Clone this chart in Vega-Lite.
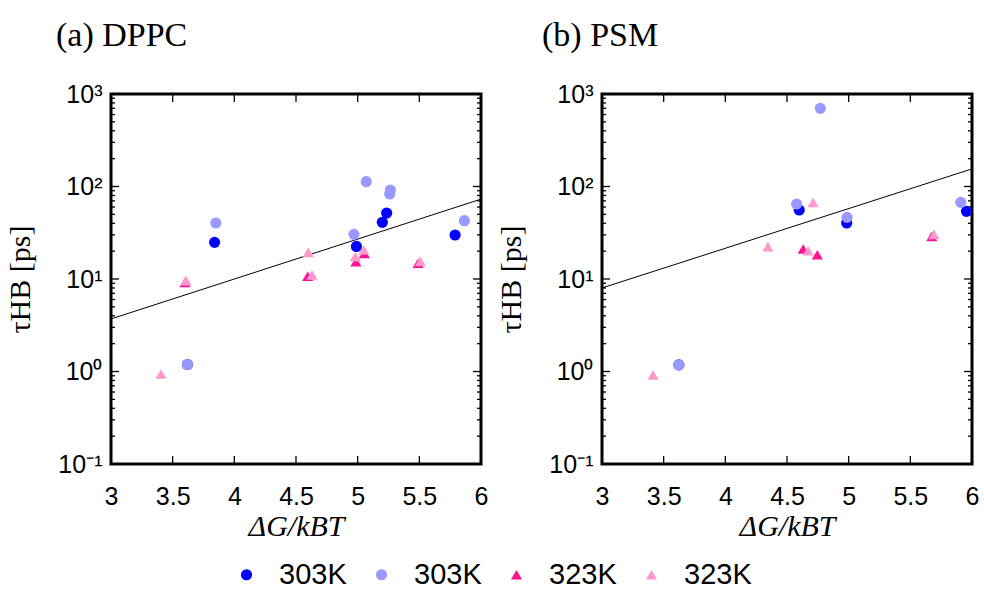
{
  "$schema": "https://vega.github.io/schema/vega-lite/v6.json",
  "padding": {"left": 4, "top": 17, "right": 4, "bottom": 0},
  "background": "white",
  "datasets": {
    "dppc": [
      {"dG": 3.62, "tau": 1.19, "series": "303K a"},
      {"dG": 3.84, "tau": 24.9, "series": "303K a"},
      {"dG": 4.99, "tau": 22.5, "series": "303K a"},
      {"dG": 5.2, "tau": 41, "series": "303K a"},
      {"dG": 5.235, "tau": 51.7, "series": "303K a"},
      {"dG": 5.79, "tau": 29.9, "series": "303K a"},
      {"dG": 3.62, "tau": 1.19, "series": "303K b"},
      {"dG": 3.85, "tau": 40.3, "series": "303K b"},
      {"dG": 4.97, "tau": 30.4, "series": "303K b"},
      {"dG": 5.07, "tau": 112.7, "series": "303K b"},
      {"dG": 5.265, "tau": 91.7, "series": "303K b"},
      {"dG": 5.26, "tau": 83, "series": "303K b"},
      {"dG": 5.865, "tau": 42.7, "series": "303K b"},
      {"dG": 3.6, "tau": 9.2, "series": "323K a"},
      {"dG": 4.595, "tau": 10.7, "series": "323K a"},
      {"dG": 4.986, "tau": 15.4, "series": "323K a"},
      {"dG": 5.054, "tau": 18.9, "series": "323K a"},
      {"dG": 5.49, "tau": 14.8, "series": "323K a"},
      {"dG": 3.405, "tau": 0.94, "series": "323K b"},
      {"dG": 3.608, "tau": 9.6, "series": "323K b"},
      {"dG": 4.6, "tau": 19.4, "series": "323K b"},
      {"dG": 4.63, "tau": 11.1, "series": "323K b"},
      {"dG": 4.981, "tau": 17.4, "series": "323K b"},
      {"dG": 5.049, "tau": 20.6, "series": "323K b"},
      {"dG": 5.508, "tau": 15.5, "series": "323K b"}
    ],
    "psm": [
      {"dG": 3.623, "tau": 1.18, "series": "303K a"},
      {"dG": 4.599, "tau": 55.7, "series": "303K a"},
      {"dG": 4.984, "tau": 40.3, "series": "303K a"},
      {"dG": 5.955, "tau": 53.9, "series": "303K a"},
      {"dG": 3.623, "tau": 1.18, "series": "303K b"},
      {"dG": 4.578, "tau": 64.7, "series": "303K b"},
      {"dG": 4.77, "tau": 700, "series": "303K b"},
      {"dG": 4.987, "tau": 46.4, "series": "303K b"},
      {"dG": 5.909, "tau": 67.4, "series": "303K b"},
      {"dG": 4.631, "tau": 21.1, "series": "323K a"},
      {"dG": 4.746, "tau": 18.3, "series": "323K a"},
      {"dG": 5.674, "tau": 28.9, "series": "323K a"},
      {"dG": 3.414, "tau": 0.92, "series": "323K b"},
      {"dG": 4.345, "tau": 22.4, "series": "323K b"},
      {"dG": 4.711, "tau": 67.5, "series": "323K b"},
      {"dG": 4.671, "tau": 20.2, "series": "323K b"},
      {"dG": 5.692, "tau": 30.4, "series": "323K b"}
    ],
    "fit_dppc": [{"dG": 3, "tau": 3.7}, {"dG": 6, "tau": 73}],
    "fit_psm": [{"dG": 3, "tau": 8.0}, {"dG": 6, "tau": 155}],
    "yticks": [
      {"v": 0.1, "kind": "major"}, {"v": 1, "kind": "major"}, {"v": 10, "kind": "major"}, {"v": 100, "kind": "major"}, {"v": 1000, "kind": "major"},
      {"v": 0.2, "kind": "minor"}, {"v": 0.3, "kind": "minor"}, {"v": 0.4, "kind": "minor"}, {"v": 0.5, "kind": "minor"}, {"v": 0.6, "kind": "minor"}, {"v": 0.7, "kind": "minor"}, {"v": 0.8, "kind": "minor"}, {"v": 0.9, "kind": "minor"},
      {"v": 2, "kind": "minor"}, {"v": 3, "kind": "minor"}, {"v": 4, "kind": "minor"}, {"v": 5, "kind": "minor"}, {"v": 6, "kind": "minor"}, {"v": 7, "kind": "minor"}, {"v": 8, "kind": "minor"}, {"v": 9, "kind": "minor"},
      {"v": 20, "kind": "minor"}, {"v": 30, "kind": "minor"}, {"v": 40, "kind": "minor"}, {"v": 50, "kind": "minor"}, {"v": 60, "kind": "minor"}, {"v": 70, "kind": "minor"}, {"v": 80, "kind": "minor"}, {"v": 90, "kind": "minor"},
      {"v": 200, "kind": "minor"}, {"v": 300, "kind": "minor"}, {"v": 400, "kind": "minor"}, {"v": 500, "kind": "minor"}, {"v": 600, "kind": "minor"}, {"v": 700, "kind": "minor"}, {"v": 800, "kind": "minor"}, {"v": 900, "kind": "minor"}
    ],
    "xticks": [{"v": 3.5}, {"v": 4}, {"v": 4.5}, {"v": 5}, {"v": 5.5}]
  },
  "hconcat": [
    {
      "width": 370,
      "height": 370,
      "title": {"text": "(a) DPPC", "anchor": "start", "frame": "group", "dx": -55, "offset": 2, "baseline": "alphabetic", "font": "Liberation Serif", "fontSize": 34, "fontWeight": "normal", "color": "black"},
      "layer": [
        {
          "data": {"name": "yticks"},
          "transform": [{"filter": "datum.kind == 'major'"}],
          "mark": {"type": "rule", "color": "black", "strokeWidth": 1.3, "x2Offset": 8},
          "encoding": {
            "y": {"field": "v", "type": "quantitative", "scale": {"type": "log", "domain": [0.1, 1000], "nice": false},
              "axis": {"orient": "left", "title": "τHB [ps]", "values": [0.1, 1, 10, 100, 1000], "ticks": false, "labelPadding": 9, "titlePadding": 22, "labelExpr": "datum.value >= 999 ? '10³' : datum.value >= 99 ? '10²' : datum.value >= 9 ? '10¹' : datum.value >= 0.9 ? '10⁰' : '10⁻¹'"}},
            "x": {"datum": 3, "type": "quantitative", "scale": {"domain": [3, 6], "nice": false, "zero": false},
              "axis": {"orient": "bottom", "title": "ΔG/kBT", "values": [3, 3.5, 4, 4.5, 5, 5.5, 6], "format": "~g", "ticks": false, "labelPadding": 20, "titlePadding": 2, "titleFontStyle": "italic", "labelFlush": false}},
            "x2": {"datum": 3}
          }
        },
        {
          "data": {"name": "yticks"},
          "transform": [{"filter": "datum.kind == 'minor'"}],
          "mark": {"type": "rule", "color": "black", "strokeWidth": 1.3, "x2Offset": 4},
          "encoding": {
            "y": {"field": "v", "type": "quantitative", "scale": {"type": "log", "domain": [0.1, 1000], "nice": false},
              "axis": {"orient": "left", "title": "τHB [ps]", "values": [0.1, 1, 10, 100, 1000], "ticks": false, "labelPadding": 9, "titlePadding": 22, "labelExpr": "datum.value >= 999 ? '10³' : datum.value >= 99 ? '10²' : datum.value >= 9 ? '10¹' : datum.value >= 0.9 ? '10⁰' : '10⁻¹'"}},
            "x": {"datum": 3, "type": "quantitative", "scale": {"domain": [3, 6], "nice": false, "zero": false},
              "axis": {"orient": "bottom", "title": "ΔG/kBT", "values": [3, 3.5, 4, 4.5, 5, 5.5, 6], "format": "~g", "ticks": false, "labelPadding": 20, "titlePadding": 2, "titleFontStyle": "italic", "labelFlush": false}},
            "x2": {"datum": 3}
          }
        },
        {
          "data": {"name": "yticks"},
          "transform": [{"filter": "datum.kind == 'major'"}],
          "mark": {"type": "rule", "color": "black", "strokeWidth": 1.3, "x2Offset": -8},
          "encoding": {
            "y": {"field": "v", "type": "quantitative", "scale": {"type": "log", "domain": [0.1, 1000], "nice": false},
              "axis": {"orient": "left", "title": "τHB [ps]", "values": [0.1, 1, 10, 100, 1000], "ticks": false, "labelPadding": 9, "titlePadding": 22, "labelExpr": "datum.value >= 999 ? '10³' : datum.value >= 99 ? '10²' : datum.value >= 9 ? '10¹' : datum.value >= 0.9 ? '10⁰' : '10⁻¹'"}},
            "x": {"datum": 6, "type": "quantitative", "scale": {"domain": [3, 6], "nice": false, "zero": false},
              "axis": {"orient": "bottom", "title": "ΔG/kBT", "values": [3, 3.5, 4, 4.5, 5, 5.5, 6], "format": "~g", "ticks": false, "labelPadding": 20, "titlePadding": 2, "titleFontStyle": "italic", "labelFlush": false}},
            "x2": {"datum": 6}
          }
        },
        {
          "data": {"name": "yticks"},
          "transform": [{"filter": "datum.kind == 'minor'"}],
          "mark": {"type": "rule", "color": "black", "strokeWidth": 1.3, "x2Offset": -4},
          "encoding": {
            "y": {"field": "v", "type": "quantitative", "scale": {"type": "log", "domain": [0.1, 1000], "nice": false},
              "axis": {"orient": "left", "title": "τHB [ps]", "values": [0.1, 1, 10, 100, 1000], "ticks": false, "labelPadding": 9, "titlePadding": 22, "labelExpr": "datum.value >= 999 ? '10³' : datum.value >= 99 ? '10²' : datum.value >= 9 ? '10¹' : datum.value >= 0.9 ? '10⁰' : '10⁻¹'"}},
            "x": {"datum": 6, "type": "quantitative", "scale": {"domain": [3, 6], "nice": false, "zero": false},
              "axis": {"orient": "bottom", "title": "ΔG/kBT", "values": [3, 3.5, 4, 4.5, 5, 5.5, 6], "format": "~g", "ticks": false, "labelPadding": 20, "titlePadding": 2, "titleFontStyle": "italic", "labelFlush": false}},
            "x2": {"datum": 6}
          }
        },
        {
          "data": {"name": "xticks"},
          "mark": {"type": "rule", "color": "black", "strokeWidth": 1.3, "y2Offset": -8},
          "encoding": {
            "x": {"field": "v", "type": "quantitative", "scale": {"domain": [3, 6], "nice": false, "zero": false},
              "axis": {"orient": "bottom", "title": "ΔG/kBT", "values": [3, 3.5, 4, 4.5, 5, 5.5, 6], "format": "~g", "ticks": false, "labelPadding": 20, "titlePadding": 2, "titleFontStyle": "italic", "labelFlush": false}},
            "y": {"datum": 0.1, "type": "quantitative", "scale": {"type": "log", "domain": [0.1, 1000], "nice": false},
              "axis": {"orient": "left", "title": "τHB [ps]", "values": [0.1, 1, 10, 100, 1000], "ticks": false, "labelPadding": 9, "titlePadding": 22, "labelExpr": "datum.value >= 999 ? '10³' : datum.value >= 99 ? '10²' : datum.value >= 9 ? '10¹' : datum.value >= 0.9 ? '10⁰' : '10⁻¹'"}},
            "y2": {"datum": 0.1}
          }
        },
        {
          "data": {"name": "xticks"},
          "mark": {"type": "rule", "color": "black", "strokeWidth": 1.3, "y2Offset": 8},
          "encoding": {
            "x": {"field": "v", "type": "quantitative", "scale": {"domain": [3, 6], "nice": false, "zero": false},
              "axis": {"orient": "bottom", "title": "ΔG/kBT", "values": [3, 3.5, 4, 4.5, 5, 5.5, 6], "format": "~g", "ticks": false, "labelPadding": 20, "titlePadding": 2, "titleFontStyle": "italic", "labelFlush": false}},
            "y": {"datum": 1000, "type": "quantitative", "scale": {"type": "log", "domain": [0.1, 1000], "nice": false},
              "axis": {"orient": "left", "title": "τHB [ps]", "values": [0.1, 1, 10, 100, 1000], "ticks": false, "labelPadding": 9, "titlePadding": 22, "labelExpr": "datum.value >= 999 ? '10³' : datum.value >= 99 ? '10²' : datum.value >= 9 ? '10¹' : datum.value >= 0.9 ? '10⁰' : '10⁻¹'"}},
            "y2": {"datum": 1000}
          }
        },
        {
          "data": {"name": "fit_dppc"},
          "mark": {"type": "line", "color": "black", "strokeWidth": 1},
          "encoding": {
            "x": {"field": "dG", "type": "quantitative", "scale": {"domain": [3, 6], "nice": false, "zero": false},
              "axis": {"orient": "bottom", "title": "ΔG/kBT", "values": [3, 3.5, 4, 4.5, 5, 5.5, 6], "format": "~g", "ticks": false, "labelPadding": 20, "titlePadding": 2, "titleFontStyle": "italic", "labelFlush": false}},
            "y": {"field": "tau", "type": "quantitative", "scale": {"type": "log", "domain": [0.1, 1000], "nice": false},
              "axis": {"orient": "left", "title": "τHB [ps]", "values": [0.1, 1, 10, 100, 1000], "ticks": false, "labelPadding": 9, "titlePadding": 22, "labelExpr": "datum.value >= 999 ? '10³' : datum.value >= 99 ? '10²' : datum.value >= 9 ? '10¹' : datum.value >= 0.9 ? '10⁰' : '10⁻¹'"}}
          }
        },
        {
          "data": {"name": "dppc"},
          "mark": {"type": "point", "filled": true, "opacity": 1, "clip": true},
          "encoding": {
            "x": {"field": "dG", "type": "quantitative", "scale": {"domain": [3, 6], "nice": false, "zero": false},
              "axis": {"orient": "bottom", "title": "ΔG/kBT", "values": [3, 3.5, 4, 4.5, 5, 5.5, 6], "format": "~g", "ticks": false, "labelPadding": 20, "titlePadding": 2, "titleFontStyle": "italic", "labelFlush": false}},
            "y": {"field": "tau", "type": "quantitative", "scale": {"type": "log", "domain": [0.1, 1000], "nice": false},
              "axis": {"orient": "left", "title": "τHB [ps]", "values": [0.1, 1, 10, 100, 1000], "ticks": false, "labelPadding": 9, "titlePadding": 22, "labelExpr": "datum.value >= 999 ? '10³' : datum.value >= 99 ? '10²' : datum.value >= 9 ? '10¹' : datum.value >= 0.9 ? '10⁰' : '10⁻¹'"}},
            "color": {"field": "series", "type": "nominal",
              "scale": {"domain": ["303K a", "303K b", "323K a", "323K b"], "range": ["#0000ff", "#9999ff", "#ff1493", "#ff99cc"]},
              "legend": {"title": null, "orient": "bottom", "direction": "horizontal", "offset": 17, "labelExpr": "slice(datum.label, 0, 4)"}},
            "shape": {"field": "series", "type": "nominal",
              "scale": {"domain": ["303K a", "303K b", "323K a", "323K b"], "range": ["circle", "circle", "triangle-up", "triangle-up"]},
              "legend": {"title": null, "orient": "bottom", "direction": "horizontal", "offset": 17, "labelExpr": "slice(datum.label, 0, 4)"}},
            "size": {"field": "series", "type": "nominal",
              "scale": {"domain": ["303K a", "303K b", "323K a", "323K b"], "range": [125, 125, 175, 175]}, "legend": null}
          }
        }
      ]
    },
    {
      "width": 370,
      "height": 370,
      "title": {"text": "(b) PSM", "anchor": "start", "frame": "group", "dx": -60, "offset": 2, "baseline": "alphabetic", "font": "Liberation Serif", "fontSize": 34, "fontWeight": "normal", "color": "black"},
      "layer": [
        {
          "data": {"name": "yticks"},
          "transform": [{"filter": "datum.kind == 'major'"}],
          "mark": {"type": "rule", "color": "black", "strokeWidth": 1.3, "x2Offset": 8},
          "encoding": {
            "y": {"field": "v", "type": "quantitative", "scale": {"type": "log", "domain": [0.1, 1000], "nice": false},
              "axis": {"orient": "left", "title": "τHB [ps]", "values": [0.1, 1, 10, 100, 1000], "ticks": false, "labelPadding": 9, "titlePadding": 22, "labelExpr": "datum.value >= 999 ? '10³' : datum.value >= 99 ? '10²' : datum.value >= 9 ? '10¹' : datum.value >= 0.9 ? '10⁰' : '10⁻¹'"}},
            "x": {"datum": 3, "type": "quantitative", "scale": {"domain": [3, 6], "nice": false, "zero": false},
              "axis": {"orient": "bottom", "title": "ΔG/kBT", "values": [3, 3.5, 4, 4.5, 5, 5.5, 6], "format": "~g", "ticks": false, "labelPadding": 20, "titlePadding": 2, "titleFontStyle": "italic", "labelFlush": false}},
            "x2": {"datum": 3}
          }
        },
        {
          "data": {"name": "yticks"},
          "transform": [{"filter": "datum.kind == 'minor'"}],
          "mark": {"type": "rule", "color": "black", "strokeWidth": 1.3, "x2Offset": 4},
          "encoding": {
            "y": {"field": "v", "type": "quantitative", "scale": {"type": "log", "domain": [0.1, 1000], "nice": false},
              "axis": {"orient": "left", "title": "τHB [ps]", "values": [0.1, 1, 10, 100, 1000], "ticks": false, "labelPadding": 9, "titlePadding": 22, "labelExpr": "datum.value >= 999 ? '10³' : datum.value >= 99 ? '10²' : datum.value >= 9 ? '10¹' : datum.value >= 0.9 ? '10⁰' : '10⁻¹'"}},
            "x": {"datum": 3, "type": "quantitative", "scale": {"domain": [3, 6], "nice": false, "zero": false},
              "axis": {"orient": "bottom", "title": "ΔG/kBT", "values": [3, 3.5, 4, 4.5, 5, 5.5, 6], "format": "~g", "ticks": false, "labelPadding": 20, "titlePadding": 2, "titleFontStyle": "italic", "labelFlush": false}},
            "x2": {"datum": 3}
          }
        },
        {
          "data": {"name": "yticks"},
          "transform": [{"filter": "datum.kind == 'major'"}],
          "mark": {"type": "rule", "color": "black", "strokeWidth": 1.3, "x2Offset": -8},
          "encoding": {
            "y": {"field": "v", "type": "quantitative", "scale": {"type": "log", "domain": [0.1, 1000], "nice": false},
              "axis": {"orient": "left", "title": "τHB [ps]", "values": [0.1, 1, 10, 100, 1000], "ticks": false, "labelPadding": 9, "titlePadding": 22, "labelExpr": "datum.value >= 999 ? '10³' : datum.value >= 99 ? '10²' : datum.value >= 9 ? '10¹' : datum.value >= 0.9 ? '10⁰' : '10⁻¹'"}},
            "x": {"datum": 6, "type": "quantitative", "scale": {"domain": [3, 6], "nice": false, "zero": false},
              "axis": {"orient": "bottom", "title": "ΔG/kBT", "values": [3, 3.5, 4, 4.5, 5, 5.5, 6], "format": "~g", "ticks": false, "labelPadding": 20, "titlePadding": 2, "titleFontStyle": "italic", "labelFlush": false}},
            "x2": {"datum": 6}
          }
        },
        {
          "data": {"name": "yticks"},
          "transform": [{"filter": "datum.kind == 'minor'"}],
          "mark": {"type": "rule", "color": "black", "strokeWidth": 1.3, "x2Offset": -4},
          "encoding": {
            "y": {"field": "v", "type": "quantitative", "scale": {"type": "log", "domain": [0.1, 1000], "nice": false},
              "axis": {"orient": "left", "title": "τHB [ps]", "values": [0.1, 1, 10, 100, 1000], "ticks": false, "labelPadding": 9, "titlePadding": 22, "labelExpr": "datum.value >= 999 ? '10³' : datum.value >= 99 ? '10²' : datum.value >= 9 ? '10¹' : datum.value >= 0.9 ? '10⁰' : '10⁻¹'"}},
            "x": {"datum": 6, "type": "quantitative", "scale": {"domain": [3, 6], "nice": false, "zero": false},
              "axis": {"orient": "bottom", "title": "ΔG/kBT", "values": [3, 3.5, 4, 4.5, 5, 5.5, 6], "format": "~g", "ticks": false, "labelPadding": 20, "titlePadding": 2, "titleFontStyle": "italic", "labelFlush": false}},
            "x2": {"datum": 6}
          }
        },
        {
          "data": {"name": "xticks"},
          "mark": {"type": "rule", "color": "black", "strokeWidth": 1.3, "y2Offset": -8},
          "encoding": {
            "x": {"field": "v", "type": "quantitative", "scale": {"domain": [3, 6], "nice": false, "zero": false},
              "axis": {"orient": "bottom", "title": "ΔG/kBT", "values": [3, 3.5, 4, 4.5, 5, 5.5, 6], "format": "~g", "ticks": false, "labelPadding": 20, "titlePadding": 2, "titleFontStyle": "italic", "labelFlush": false}},
            "y": {"datum": 0.1, "type": "quantitative", "scale": {"type": "log", "domain": [0.1, 1000], "nice": false},
              "axis": {"orient": "left", "title": "τHB [ps]", "values": [0.1, 1, 10, 100, 1000], "ticks": false, "labelPadding": 9, "titlePadding": 22, "labelExpr": "datum.value >= 999 ? '10³' : datum.value >= 99 ? '10²' : datum.value >= 9 ? '10¹' : datum.value >= 0.9 ? '10⁰' : '10⁻¹'"}},
            "y2": {"datum": 0.1}
          }
        },
        {
          "data": {"name": "xticks"},
          "mark": {"type": "rule", "color": "black", "strokeWidth": 1.3, "y2Offset": 8},
          "encoding": {
            "x": {"field": "v", "type": "quantitative", "scale": {"domain": [3, 6], "nice": false, "zero": false},
              "axis": {"orient": "bottom", "title": "ΔG/kBT", "values": [3, 3.5, 4, 4.5, 5, 5.5, 6], "format": "~g", "ticks": false, "labelPadding": 20, "titlePadding": 2, "titleFontStyle": "italic", "labelFlush": false}},
            "y": {"datum": 1000, "type": "quantitative", "scale": {"type": "log", "domain": [0.1, 1000], "nice": false},
              "axis": {"orient": "left", "title": "τHB [ps]", "values": [0.1, 1, 10, 100, 1000], "ticks": false, "labelPadding": 9, "titlePadding": 22, "labelExpr": "datum.value >= 999 ? '10³' : datum.value >= 99 ? '10²' : datum.value >= 9 ? '10¹' : datum.value >= 0.9 ? '10⁰' : '10⁻¹'"}},
            "y2": {"datum": 1000}
          }
        },
        {
          "data": {"name": "fit_psm"},
          "mark": {"type": "line", "color": "black", "strokeWidth": 1},
          "encoding": {
            "x": {"field": "dG", "type": "quantitative", "scale": {"domain": [3, 6], "nice": false, "zero": false},
              "axis": {"orient": "bottom", "title": "ΔG/kBT", "values": [3, 3.5, 4, 4.5, 5, 5.5, 6], "format": "~g", "ticks": false, "labelPadding": 20, "titlePadding": 2, "titleFontStyle": "italic", "labelFlush": false}},
            "y": {"field": "tau", "type": "quantitative", "scale": {"type": "log", "domain": [0.1, 1000], "nice": false},
              "axis": {"orient": "left", "title": "τHB [ps]", "values": [0.1, 1, 10, 100, 1000], "ticks": false, "labelPadding": 9, "titlePadding": 22, "labelExpr": "datum.value >= 999 ? '10³' : datum.value >= 99 ? '10²' : datum.value >= 9 ? '10¹' : datum.value >= 0.9 ? '10⁰' : '10⁻¹'"}}
          }
        },
        {
          "data": {"name": "psm"},
          "mark": {"type": "point", "filled": true, "opacity": 1, "clip": true},
          "encoding": {
            "x": {"field": "dG", "type": "quantitative", "scale": {"domain": [3, 6], "nice": false, "zero": false},
              "axis": {"orient": "bottom", "title": "ΔG/kBT", "values": [3, 3.5, 4, 4.5, 5, 5.5, 6], "format": "~g", "ticks": false, "labelPadding": 20, "titlePadding": 2, "titleFontStyle": "italic", "labelFlush": false}},
            "y": {"field": "tau", "type": "quantitative", "scale": {"type": "log", "domain": [0.1, 1000], "nice": false},
              "axis": {"orient": "left", "title": "τHB [ps]", "values": [0.1, 1, 10, 100, 1000], "ticks": false, "labelPadding": 9, "titlePadding": 22, "labelExpr": "datum.value >= 999 ? '10³' : datum.value >= 99 ? '10²' : datum.value >= 9 ? '10¹' : datum.value >= 0.9 ? '10⁰' : '10⁻¹'"}},
            "color": {"field": "series", "type": "nominal",
              "scale": {"domain": ["303K a", "303K b", "323K a", "323K b"], "range": ["#0000ff", "#9999ff", "#ff1493", "#ff99cc"]},
              "legend": {"title": null, "orient": "bottom", "direction": "horizontal", "offset": 17, "labelExpr": "slice(datum.label, 0, 4)"}},
            "shape": {"field": "series", "type": "nominal",
              "scale": {"domain": ["303K a", "303K b", "323K a", "323K b"], "range": ["circle", "circle", "triangle-up", "triangle-up"]},
              "legend": {"title": null, "orient": "bottom", "direction": "horizontal", "offset": 17, "labelExpr": "slice(datum.label, 0, 4)"}},
            "size": {"field": "series", "type": "nominal",
              "scale": {"domain": ["303K a", "303K b", "323K a", "323K b"], "range": [125, 125, 175, 175]}, "legend": null}
          }
        }
      ]
    }
  ],
  "spacing": 5,
  "config": {
    "view": {"stroke": "black", "strokeWidth": 3},
    "axis": {"grid": false, "domain": false, "labelFont": "Liberation Sans", "labelFontSize": 25, "labelColor": "black",
      "titleFont": "Liberation Serif", "titleFontSize": 30, "titleFontWeight": "normal", "titleColor": "black"},
    "legend": {"labelFont": "Liberation Sans", "labelFontSize": 29, "labelColor": "black", "symbolSize": 90, "symbolStrokeWidth": 0,
      "columnPadding": 20, "labelOffset": 18, "padding": 0, "layout": {"bottom": {"anchor": "middle"}}}
  }
}
